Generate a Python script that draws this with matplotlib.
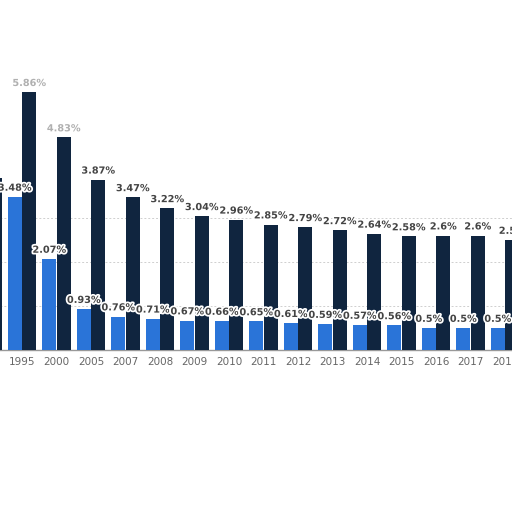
import numpy as np
import matplotlib
matplotlib.use("Agg")
import matplotlib.pyplot as plt
import matplotlib.patheffects as pe

years = ["1990", "1995", "2000", "2005", "2007", "2008", "2009", "2010", "2011",
         "2012", "2013", "2014", "2015", "2016", "2017", "2018"]
share_a = [1.0, 3.48, 2.07, 0.93, 0.76, 0.71, 0.67, 0.66, 0.65,
           0.61, 0.59, 0.57, 0.56, 0.5, 0.5, 0.5]
share_b = [3.92, 5.86, 4.83, 3.87, 3.47, 3.22, 3.04, 2.96, 2.85,
           2.79, 2.72, 2.64, 2.58, 2.6, 2.6, 2.5]

blue = "#2a74d8"
navy = "#10253f"

fig = plt.figure(figsize=(5.12, 5.12), dpi=100)
ax = fig.add_axes([0, 162 / 512, 1, 350 / 512])

x = np.arange(len(years))
w = 0.4
bars_a = ax.bar(x - 0.21, share_a, w, color=blue, zorder=3)
bars_b = ax.bar(x + 0.21, share_b, w, color=navy, zorder=3)

stroke = [pe.withStroke(linewidth=2.5, foreground="white")]
for bars, vals in ((bars_a, share_a), (bars_b, share_b)):
    for b, v in zip(bars, vals):
        txt = "%g%%" % v
        col = "#444444"
        if v > 4.5:
            col = "#b0b0b0"  # faded labels at the top
        ax.annotate(txt, (b.get_x() + b.get_width() / 2, v), xytext=(0, 3),
                    textcoords="offset points", ha="center", va="bottom",
                    fontsize=7, fontweight="bold", color=col,
                    path_effects=stroke, zorder=4)

ax.set_xticks(x)
ax.set_xticklabels(years, fontsize=7.5, color="#666666")
ax.tick_params(axis="x", length=0, pad=5)
ax.set_yticks([1, 2, 3])
ax.tick_params(axis="y", length=0, labelleft=False)
# limits after the ticks, set_xticks would widen them
ax.set_xlim(0.36, 0.36 + 512 / 34.5)
ax.set_ylim(0, 350 / 44)
ax.grid(axis="y", linestyle=(0, (2, 2)), color="#cfcfcf", linewidth=0.7, zorder=0)
for s in ["top", "right", "left"]:
    ax.spines[s].set_visible(False)
ax.spines["bottom"].set_color("#999999")
ax.spines["bottom"].set_linewidth(1.0)

fig.savefig("out.png", dpi=100)
